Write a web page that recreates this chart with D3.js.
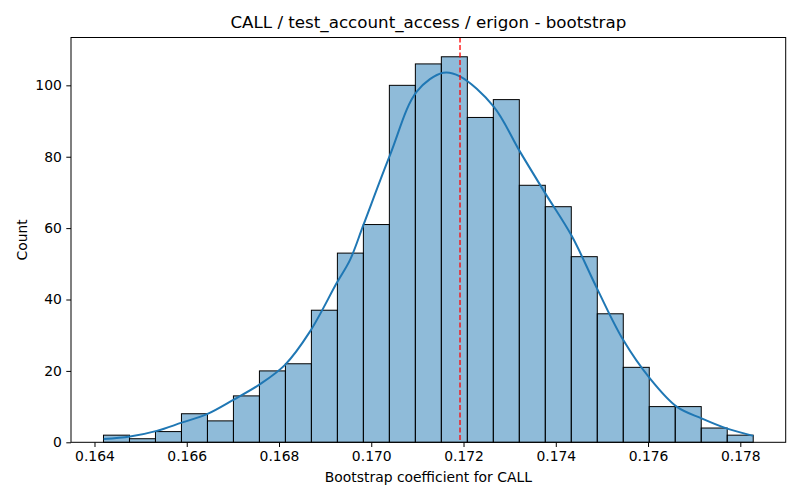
<!DOCTYPE html>
<html>
<head>
<meta charset="utf-8">
<script src="https://cdn.jsdelivr.net/npm/d3@7"></script>
<style>
  body { margin: 0; background: #fff; }
  text { font-family: "DejaVu Sans", sans-serif; fill: #000; }
</style>
</head>
<body>
<script>
// histogram counts, left to right (25 bins)
var counts = [2, 1, 3, 8, 6, 13, 20, 22, 37, 53, 61, 100, 106, 108, 91, 96, 72, 66, 52, 36, 21, 10, 10, 4, 2];
var binLo = 0.164195, binHi = 0.178280;

// kde curve
var kdeX = [0.16420, 0.16477, 0.16535, 0.16589, 0.16644, 0.16701, 0.16759, 0.16813, 0.16867, 0.16925,
            0.16954, 0.16983, 0.17041, 0.17099, 0.17156, 0.17192, 0.17265, 0.17322, 0.17377, 0.17435,
            0.17489, 0.17546, 0.17604, 0.17662, 0.17716, 0.17770, 0.17828];
var kdeY = [0.9, 1.6, 3.2, 5.5, 7.9, 11.9, 16.3, 21.7, 31, 44.6,
            51.1, 60.9, 80.6, 98.3, 103.5, 102.5, 94.1, 81.5, 69.8, 57.7,
            43.2, 28.7, 17.9, 10, 6.7, 3.9, 1.8];

var meanValue = 0.171924;
var xTicks = [0.164, 0.166, 0.168, 0.170, 0.172, 0.174, 0.176, 0.178];
var yTicks = [0, 20, 40, 60, 80, 100];

var margin = {top: 37.5, right: 14.3, bottom: 57.7, left: 71},
    width = 800 - margin.left - margin.right,
    height = 500 - margin.top - margin.bottom;

var svg = d3.select("body").append("svg")
    .attr("width", 800)
    .attr("height", 500)
    .append("g")
    .attr("transform", "translate(" + margin.left + "," + margin.top + ")");

// 5% padding like matplotlib
var pad = (binHi - binLo) * 0.05;
var x = d3.scaleLinear().domain([binLo - pad, binHi + pad]).range([0, width]);
var y = d3.scaleLinear().domain([0, d3.max(counts) * 1.05]).range([height, 0]);

var binW = (binHi - binLo) / counts.length;
var bins = counts.map(function (c, i) {
    return {x0: binLo + i * binW, x1: binLo + (i + 1) * binW, n: c};
});

svg.selectAll("rect.bar")
    .data(bins)
    .enter()
    .append("rect")
    .attr("class", "bar")
    .attr("x", function (d) { return x(d.x0); })
    .attr("y", function (d) { return y(d.n); })
    .attr("width", function (d) { return x(d.x1) - x(d.x0); })
    .attr("height", function (d) { return y(0) - y(d.n); })
    .style("fill", "rgba(31,119,180,0.5)")
    .style("stroke", "#000")
    .style("stroke-width", 1);

var line = d3.line()
    .x(function (d, i) { return x(kdeX[i]); })
    .y(function (d) { return y(d); })
    .curve(d3.curveCatmullRom);

svg.append("path")
    .datum(kdeY)
    .attr("fill", "none")
    .attr("stroke", "#1f77b4")
    .attr("stroke-width", 2)
    .attr("d", line);

svg.append("line")
    .attr("x1", x(meanValue))
    .attr("x2", x(meanValue))
    .attr("y1", 0)
    .attr("y2", height)
    .attr("stroke", "red")
    .attr("stroke-width", 1.3)
    .attr("stroke-dasharray", "5,2.5");

// axes
var xAxis = svg.append("g")
    .attr("transform", "translate(0," + height + ")")
    .call(d3.axisBottom(x).tickValues(xTicks).tickFormat(d3.format(".3f")).tickSizeOuter(0).tickSize(4.7).tickPadding(4.5));

var yAxis = svg.append("g")
    .call(d3.axisLeft(y).tickValues(yTicks).tickSizeOuter(0).tickSize(4.7).tickPadding(4.5));

[xAxis, yAxis].forEach(function (a) {
    a.select(".domain").remove();
    a.selectAll("text").style("font-size", "13.9px").style("font-family", "DejaVu Sans");
    a.selectAll("line").attr("stroke", "#000").attr("stroke-width", 1);
});

// frame
svg.append("rect")
    .attr("x", 0)
    .attr("y", 0)
    .attr("width", width)
    .attr("height", height)
    .style("fill", "none")
    .style("stroke", "#000")
    .style("stroke-width", 1);

svg.append("text")
    .attr("x", width / 2)
    .attr("y", -10)
    .attr("text-anchor", "middle")
    .style("font-size", "16.7px")
    .text("CALL / test_account_access / erigon - bootstrap");

svg.append("text")
    .attr("x", width / 2)
    .attr("y", height + 40)
    .attr("text-anchor", "middle")
    .style("font-size", "13.9px")
    .text("Bootstrap coefficient for CALL");

svg.append("text")
    .attr("transform", "translate(-44," + (height / 2) + ") rotate(-90)")
    .attr("text-anchor", "middle")
    .style("font-size", "13.9px")
    .text("Count");
</script>
</body>
</html>
